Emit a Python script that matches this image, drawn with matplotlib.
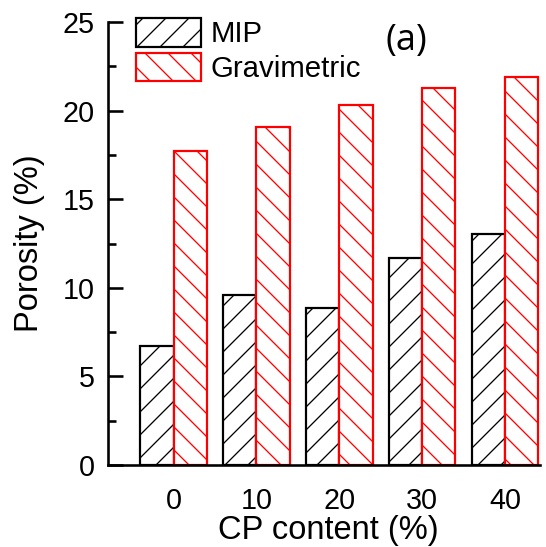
import matplotlib
matplotlib.use("Agg")
import matplotlib.pyplot as plt
import numpy as np

# Data
cp_content = [0, 10, 20, 30, 40]
mip = [6.7, 9.6, 8.85, 11.7, 13.05]
gravimetric = [17.7, 19.05, 20.3, 21.25, 21.9]
series_labels = ["MIP", "Gravimetric"]

DPI = 138
PT = 72.0 / DPI  # points per pixel

plt.rcParams["font.family"] = ["Liberation Sans", "DejaVu Sans"]
plt.rcParams["hatch.linewidth"] = 1.3 * PT

fig = plt.figure(figsize=(546 / DPI, 547 / DPI), dpi=DPI)
ax = fig.add_axes([108 / 546, 1 - 465 / 547, (540 - 108) / 546, (465 - 22) / 547])

x = np.array(cp_content, dtype=float)
w = 4.0
ax.bar(x - w / 2, mip, width=w, facecolor="white", edgecolor="black",
       hatch="//", linewidth=2.2 * PT, label=series_labels[0], zorder=2)
ax.bar(x + w / 2, gravimetric, width=w, facecolor="white", edgecolor="#ff0000",
       hatch="\\\\", linewidth=2.2 * PT, label=series_labels[1], zorder=2)

ax.set_xlim(-7.9, 44.2)
ax.set_ylim(0, 25)
ax.set_xticks(cp_content)
ax.set_xticklabels([str(v) for v in cp_content])
ax.set_yticks([0, 5, 10, 15, 20, 25])
ax.set_yticks(np.arange(0, 25.1, 2.5), minor=True)

for side in ("top", "right"):
    ax.spines[side].set_visible(False)
for side in ("left", "bottom"):
    ax.spines[side].set_linewidth(2.6 * PT)
    ax.spines[side].set_zorder(3)

tick_fs = 15.0
ax.tick_params(axis="both", which="major", direction="in", length=15 * PT,
               width=2.6 * PT, labelsize=tick_fs, zorder=4)
ax.tick_params(axis="y", which="minor", direction="in", length=8 * PT,
               width=2.6 * PT)
ax.tick_params(axis="x", which="minor", bottom=False)
ax.tick_params(axis="y", which="major", pad=13 * PT)
ax.tick_params(axis="x", which="major", pad=22 * PT)

label_fs = 17.0
ax.set_xlabel("CP content (%)", fontsize=label_fs)
ax.set_ylabel("Porosity (%)", fontsize=label_fs)
ax.xaxis.label.set_va("center")
ax.yaxis.label.set_va("center")
ax.xaxis.set_label_coords((328 - 108) / 432, (465 - 530) / 443)
ax.yaxis.set_label_coords((30 - 108) / 432, (465 - 243) / 443)

leg_fs = 15.3
em = leg_fs / PT
ax.legend(loc="upper left", bbox_to_anchor=(136 / 546, 1 - 18 / 547),
          bbox_transform=fig.transFigure, frameon=False, fontsize=leg_fs,
          borderpad=0, borderaxespad=0, handlelength=65 / em,
          handleheight=33 / em, handletextpad=10 / em, labelspacing=0.15)

ax.text((406 - 108) / 432, (465 - 41) / 443, "(a)", transform=ax.transAxes,
        ha="center", va="center", fontsize=19, family=["Open Sans", "DejaVu Sans"])

fig.savefig("out.png", dpi=DPI)
